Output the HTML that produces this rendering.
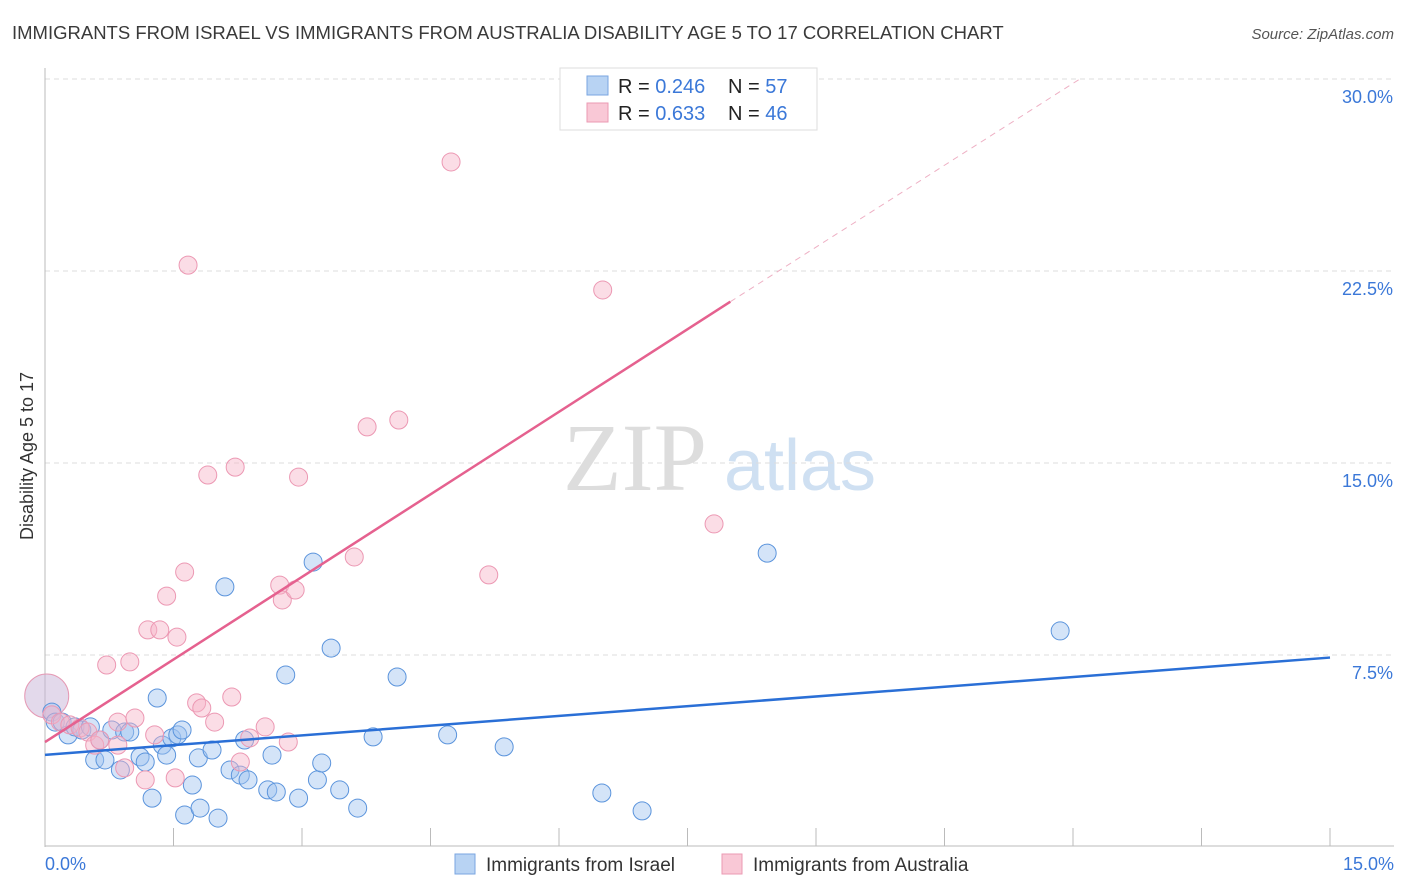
<!DOCTYPE html>
<html><head><meta charset="utf-8"><style>
body{margin:0;background:#fff;font-family:"Liberation Sans",sans-serif;}
svg{display:block}
</style></head><body>
<svg id="chart" width="1406" height="892">
<text x="12" y="39" font-size="18.5" fill="#3a3a3a">IMMIGRANTS FROM ISRAEL VS IMMIGRANTS FROM AUSTRALIA DISABILITY AGE 5 TO 17 CORRELATION CHART</text>
<text x="1394" y="39" font-size="15" fill="#555" font-style="italic" text-anchor="end">Source: ZipAtlas.com</text>
<text x="33" y="456" font-size="18" fill="#333" text-anchor="middle" transform="rotate(-90 33 456)">Disability Age 5 to 17</text>
<g><text x="635" y="490" font-size="96" fill="#ddd" font-family="Liberation Serif,serif" text-anchor="middle">ZIP</text><text x="800" y="490" font-size="72" fill="#cfe0f2" text-anchor="middle">atlas</text></g>
<g id="grid"></g><g id="axes"></g><g id="marks"></g>
<g>
<rect x="560" y="68" width="257" height="62" fill="#fff" stroke="#ddd"/>
<rect x="587" y="76" width="21" height="19" fill="#b8d3f3" stroke="#7aa6e0"/>
<rect x="587" y="103" width="21" height="19" fill="#f9c8d6" stroke="#eb9ab3"/>
<text x="618" y="93" font-size="20" fill="#222">R = <tspan fill="#3b78d8">0.246</tspan><tspan x="728">N = </tspan><tspan fill="#3b78d8">57</tspan></text>
<text x="618" y="120" font-size="20" fill="#222">R = <tspan fill="#3b78d8">0.633</tspan><tspan x="728">N = </tspan><tspan fill="#3b78d8">46</tspan></text>
</g>
<g>
<rect x="455" y="854" width="20" height="20" fill="#b8d3f3" stroke="#7aa6e0"/>
<text x="486" y="871" font-size="19" fill="#333">Immigrants from Israel</text>
<rect x="722" y="854" width="20" height="20" fill="#f9c8d6" stroke="#eb9ab3"/>
<text x="753" y="871" font-size="19" fill="#333">Immigrants from Australia</text>
</g>
</svg>
<script>
const israelX=[0.08,0.12,0.20,0.27,0.35,0.43,0.53,0.58,0.70,0.64,0.78,0.88,0.93,0.99,1.11,1.17,1.25,1.31,1.37,1.42,1.48,1.55,1.60,1.63,1.72,1.79,1.81,1.95,2.02,2.10,2.16,2.28,2.33,2.37,2.60,2.65,2.70,2.81,2.96,3.13,3.18,3.23,3.34,3.44,3.65,3.83,4.11,4.70,5.36,6.50,6.97,8.43,11.85];
const israelY=[5.27,4.88,4.88,4.38,4.69,4.57,4.69,3.40,3.40,4.18,4.57,3.01,4.49,4.49,3.52,3.32,1.91,5.82,3.98,3.59,4.26,4.38,4.57,1.25,2.42,3.48,1.52,3.79,1.13,10.16,3.01,2.81,4.18,2.62,2.23,3.59,2.15,6.72,1.91,11.13,2.62,3.28,7.77,2.23,1.52,4.30,6.64,4.38,3.91,2.11,1.41,11.48,8.44];
const ausX=[0.08,0.18,0.29,0.41,0.50,0.58,0.64,0.72,0.85,0.85,0.93,0.99,1.05,1.17,1.20,1.28,1.34,1.42,1.52,1.54,1.63,1.67,1.77,1.83,1.90,1.98,2.18,2.22,2.28,2.39,2.57,2.74,2.77,2.84,2.92,2.96,3.61,3.76,4.13,4.74,5.18,6.51,7.81];
const ausY=[5.16,4.88,4.77,4.65,4.49,3.98,4.18,7.11,4.88,3.98,3.09,7.23,5.04,2.62,8.48,4.38,8.48,9.80,2.70,8.20,10.74,22.73,5.63,5.43,14.53,4.88,5.86,14.84,3.32,4.26,4.69,10.23,9.65,4.10,10.04,14.45,11.33,16.41,16.68,26.76,10.63,21.76,12.62];
const bigPoint=[0.02,5.9];
const israelLine=[[0,3.6],[15,7.4]];
const ausLine=[[0,4.1],[8.0,21.3],[12.08,30.0]];
const yTicks=[7.5,15.0,22.5,30.0];
const xTickVals=[0,1.5,3,4.5,6,7.5,9,10.5,12,13.5,15];
const xLabels=["0.0%","15.0%"];

const X=v=>45+v/15*1285, Y=v=>847-v/30*768;
const NS="http://www.w3.org/2000/svg";
function mk(p,t,a){const e=document.createElementNS(NS,t);for(const k in a)e.setAttribute(k,a[k]);p.appendChild(e);return e;}
const grid=document.getElementById('grid'),axes=document.getElementById('axes'),marks=document.getElementById('marks');
yTicks.forEach(v=>{
 const l=mk(grid,'line',{x1:45,x2:1394,y1:Y(v),y2:Y(v),stroke:'#ddd','stroke-dasharray':'5,4'});
 
 
 const t=mk(axes,'text',{x:1393,y:Y(v)+24,'font-size':18,fill:'#3b78d8','text-anchor':'end'});t.textContent=v.toFixed(1)+'%';
 
 
});
const ya=mk(axes,'line',{x1:45,x2:45,y1:68,y2:847,stroke:'#bbb'});


const xa=mk(axes,'line',{x1:45,x2:1394,y1:846,y2:846,stroke:'#bbb'});


xTickVals.forEach(v=>{const l=mk(axes,'line',{x1:X(v),x2:X(v),y1:828,y2:846,stroke:'#bbb'});
 
 });
const t0=mk(axes,'text',{x:45,y:870,'font-size':18,fill:'#3b78d8'});t0.textContent=xLabels[0];


const t1=mk(axes,'text',{x:1394,y:870,'font-size':18,fill:'#3b78d8','text-anchor':'end'});t1.textContent=xLabels[1];



const bp=mk(marks,'circle',{cx:X(bigPoint[0]),cy:Y(bigPoint[1]),r:22,fill:'rgba(200,180,215,0.5)',stroke:'#e59ab5'});


israelX.forEach((v,i)=>{const c=mk(marks,'circle',{cx:X(v),cy:Y(israelY[i]),r:9,fill:'rgba(160,196,240,0.45)',stroke:'#5b94dc','stroke-width':1});
 
 });
ausX.forEach((v,i)=>{const c=mk(marks,'circle',{cx:X(v),cy:Y(ausY[i]),r:9,fill:'rgba(246,180,200,0.45)',stroke:'#ec98b3','stroke-width':1});
 
 });
const il=mk(marks,'line',{x1:X(israelLine[0][0]),y1:Y(israelLine[0][1]),x2:X(israelLine[1][0]),y2:Y(israelLine[1][1]),stroke:'#2a6fd6','stroke-width':2.5});


const al=mk(marks,'line',{x1:X(ausLine[0][0]),y1:Y(ausLine[0][1]),x2:X(ausLine[1][0]),y2:Y(ausLine[1][1]),stroke:'#e5618f','stroke-width':2.5});


const ad=mk(marks,'line',{x1:X(ausLine[1][0]),y1:Y(ausLine[1][1]),x2:X(ausLine[2][0]),y2:Y(ausLine[2][1]),stroke:'#eeb0c4','stroke-width':1,'stroke-dasharray':'6,5'});


</script>
</body></html>
